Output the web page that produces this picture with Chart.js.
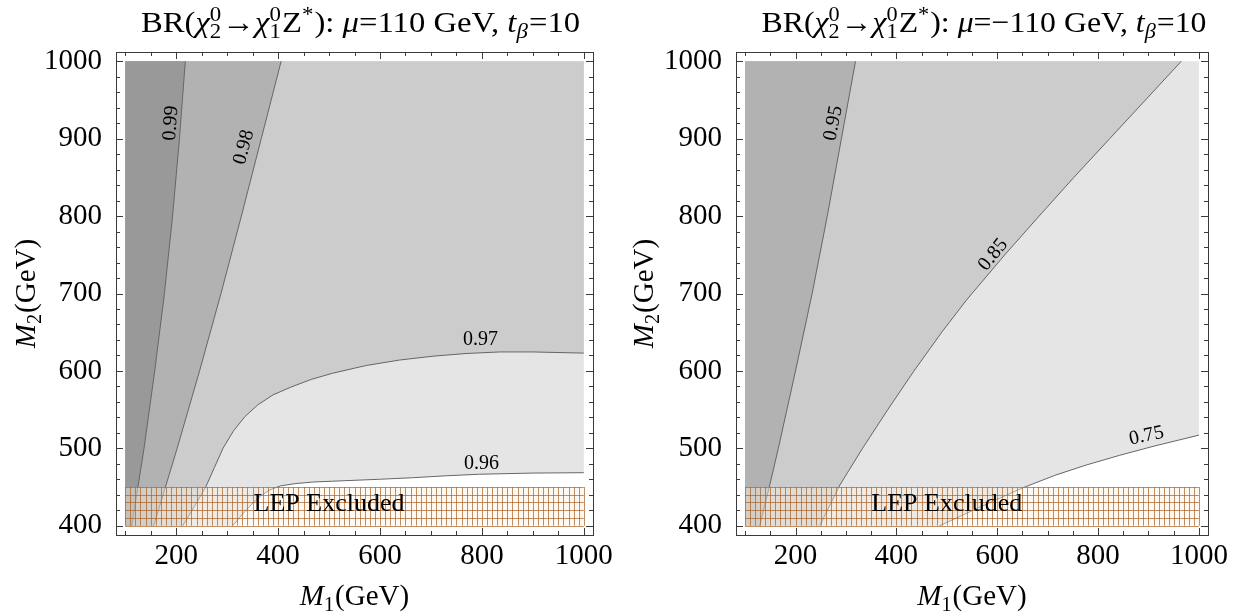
<!DOCTYPE html>
<html>
<head>
<meta charset="utf-8">
<script src="https://cdn.jsdelivr.net/npm/chart.js@4.4.1/dist/chart.umd.min.js"></script>
<style>
  html, body { margin: 0; padding: 0; background: #fff; }
  #wrap { position: relative; width: 1255px; height: 612px; overflow: hidden; }
  #left { position: absolute; left: 0; top: 0; }
  #right { position: absolute; left: 620px; top: 0; }
</style>
</head>
<body>
<div id="wrap">
  <canvas id="left" width="620" height="612"></canvas>
  <canvas id="right" width="635" height="612"></canvas>
</div>
<script>
// plot ranges (GeV)
var m1Range = [100, 1000];
var m2Range = [400, 1000];
var xTicks = [200, 400, 600, 800, 1000];
var yTicks = [400, 500, 600, 700, 800, 900, 1000];
var lepM2 = [400, 450];

// mu = 110 GeV contours, points are [M1, M2]
var c099L = [[113,400],[137,500],[158,600],[177,700],[193,800],[206.5,900],[218,1000]];
var c098L = [[156,400],[202,500],[246,600],[288,700],[328,800],[367,900],[406,1000]];
var c097L = [[213,400],[236,425],[258,450],[275,475],[292,500],[312,522],[335,541],[360,556],
             [390,569],[425,579],[465,589],[507,597],[573,607],[638,614],[704,619],
             [769,622.5],[835,624.5],[900,624.5],[1000,623]];
var c096L = [[311,400],[329,414],[347,427],[365,438],[383,446],[405,451.5],[435,454.5],
             [470,456.5],[507,457.5],[599,460],[664,462],[730,464.5],[795,466.5],
             [900,468],[1000,468.5]];
var levelsL = ['0.99', '0.98', '0.97', '0.96'];
var labelAtL = [[190,920],[333,889],[797,640],[799,480]];

// mu = -110 GeV contours
var c095R = [[129,400],[148,450],[166,500],[200,600],[233,700],[263,800],[291,900],[319,1000]];
var c085R = [[248,400],[288,452.6],[333,500],[383,550],[435,600],[490,650],[539,691.5],
             [615,750],[683,800],[752,850],[823,900],[894,950],[965,1000]];
var c075R = [[486,400],[569,425],[651,449],[714,465],[777,478.5],[843,491],[909,502.5],[1000,517]];
var levelsR = ['0.95', '0.85', '0.75'];
var labelAtR = [[275,920],[592,750],[896,516]];

var FONT = '"Liberation Serif", "Times New Roman", serif';

function fontStr(it, size) {
    return (it ? 'italic ' : '') + size + 'px ' + FONT;
}

// width of one piece of rich text
function partWidth(ctx, p, size) {
    if (p.sup != null || p.sub != null) {
        ctx.font = fontStr(p.sit, size * 0.7);
        var a = p.sup ? ctx.measureText(p.sup).width : 0;
        var b = p.sub ? ctx.measureText(p.sub).width : 0;
        return Math.max(a, b) + 1;
    }
    ctx.font = fontStr(p.it, size);
    return ctx.measureText(p.t).width;
}

// draws text with sub/superscripts centred on cx, sx stretches it sideways
function drawRich(ctx, parts, cx, base, size, sx) {
    var total = 0;
    parts.forEach(function(p) { total += partWidth(ctx, p, size); });
    ctx.save();
    ctx.translate(cx, base);
    ctx.scale(sx || 1, 1);
    var x = -total / 2;
    ctx.textAlign = 'left';
    ctx.textBaseline = 'alphabetic';
    ctx.fillStyle = '#000';
    parts.forEach(function(p) {
        var w = partWidth(ctx, p, size);
        if (p.sup != null || p.sub != null) {
            ctx.font = fontStr(p.sit, size * 0.7);
            if (p.sup) ctx.fillText(p.sup, x, -size * 0.38);
            if (p.sub) ctx.fillText(p.sub, x, size * 0.2);
        } else {
            ctx.font = fontStr(p.it, size);
            ctx.fillText(p.t, x, 0);
        }
        x += w;
    });
    ctx.restore();
}

function titleParts(mu) {
    return [{t: 'BR('}, {t: 'χ', it: true}, {sup: '0', sub: '2'}, {t: '→'},
            {t: 'χ', it: true}, {sup: '0', sub: '1'}, {t: 'Z'}, {sup: '*'},
            {t: '): '}, {t: 'μ', it: true}, {t: '=' + mu + ' GeV, '},
            {t: 't', it: true}, {sub: 'β', sit: true}, {t: '=10'}];
}
var xTitle = [{t: 'M', it: true}, {sub: '1'}, {t: '(GeV)'}];
var yTitle = [{t: 'M', it: true}, {sub: '2'}, {t: '(GeV)'}];

// close a contour into the region lying above / left of it
function region(line) {
    var pts = line.slice();
    var last = pts[pts.length - 1];
    if (last[1] < m2Range[1]) pts.push([m1Range[1], m2Range[1]]);
    pts.push([m1Range[0], m2Range[1]]);
    pts.push([m1Range[0], m2Range[0]]);
    return pts;
}

function toXY(pts) {
    return pts.map(function(p) { return {x: p[0], y: p[1]}; });
}

var decoPlugin = {
    id: 'deco',
    afterDatasetsDraw: function(chart, args, o) {
        var ctx = chart.ctx, xs = chart.scales.x, ys = chart.scales.y;
        ctx.save();
        // LEP excluded band
        var x0 = xs.getPixelForValue(m1Range[0]), x1 = xs.getPixelForValue(m1Range[1]);
        var yb = ys.getPixelForValue(lepM2[0]), yt = ys.getPixelForValue(lepM2[1]);
        ctx.fillStyle = 'rgba(252,240,228,0.45)';
        ctx.fillRect(x0, yt, x1 - x0, yb - yt);
        ctx.strokeStyle = 'rgba(168,96,34,0.7)';
        ctx.lineWidth = 1;
        ctx.beginPath();
        for (var v = m1Range[0]; v <= m1Range[1]; v += 10) {
            var px = Math.round(xs.getPixelForValue(v)) + 0.5;
            ctx.moveTo(px, yt); ctx.lineTo(px, yb);
        }
        for (var w = lepM2[0]; w <= lepM2[1]; w += 10) {
            var py = Math.round(ys.getPixelForValue(w)) + 0.5;
            ctx.moveTo(x0, py); ctx.lineTo(x1, py);
        }
        ctx.stroke();
        ctx.fillStyle = '#000';
        ctx.font = '26px ' + FONT;
        ctx.textAlign = 'center';
        ctx.textBaseline = 'middle';
        ctx.fillText('LEP Excluded', xs.getPixelForValue(500), ys.getPixelForValue(428));
        // contour labels
        ctx.font = '20px ' + FONT;
        o.levels.forEach(function(lv, i) {
            ctx.save();
            ctx.translate(xs.getPixelForValue(o.at[i][0]), ys.getPixelForValue(o.at[i][1]));
            ctx.rotate(o.rot[i] * Math.PI / 180);
            ctx.fillText(lv, 0, 0);
            ctx.restore();
        });
        ctx.restore();
    },
    afterDraw: function(chart, args, o) {
        var ctx = chart.ctx, xs = chart.scales.x, ys = chart.scales.y, a = chart.chartArea;
        ctx.save();
        ctx.strokeStyle = '#3a3a3a';
        ctx.lineWidth = 1;
        ctx.strokeRect(Math.round(a.left) + 0.5, Math.round(a.top) + 0.5,
                       Math.round(a.right - a.left), Math.round(a.bottom - a.top));
        ctx.beginPath();
        var v, p, len;
        for (v = m1Range[0]; v <= m1Range[1]; v += 50) {
            p = Math.round(xs.getPixelForValue(v)) + 0.5;
            len = xTicks.indexOf(v) >= 0 ? 7 : 4;
            ctx.moveTo(p, a.bottom); ctx.lineTo(p, a.bottom - len);
            ctx.moveTo(p, a.top); ctx.lineTo(p, a.top + len);
        }
        for (v = m2Range[0]; v <= m2Range[1]; v += 20) {
            p = Math.round(ys.getPixelForValue(v)) + 0.5;
            len = yTicks.indexOf(v) >= 0 ? 7 : 4;
            ctx.moveTo(a.left, p); ctx.lineTo(a.left + len, p);
            ctx.moveTo(a.right, p); ctx.lineTo(a.right - len, p);
        }
        ctx.stroke();
        var cx = (a.left + a.right) / 2;
        drawRich(ctx, titleParts(o.mu), cx + o.titleShift, 32, 30, o.titleStretch);
        drawRich(ctx, xTitle, cx, 605, 29);
        ctx.translate(o.yTitleX, (a.top + a.bottom) / 2);
        ctx.rotate(-Math.PI / 2);
        drawRich(ctx, yTitle, 0, 0, 29);
        ctx.restore();
    }
};

function makeChart(id, lines, shades, deco, padRight) {
    var datasets = [];
    // shaded regions, lightest first (drawn behind)
    for (var i = lines.length - 1; i >= 0; i--) {
        datasets.push({
            data: toXY(region(lines[i])),
            fill: 'shape',
            backgroundColor: shades[i],
            borderWidth: 0,
            borderColor: 'rgba(0,0,0,0)',
            pointRadius: 0,
            tension: 0,
            order: 10 + i
        });
    }
    lines.forEach(function(l) {
        datasets.push({
            data: toXY(l),
            fill: false,
            borderColor: '#666666',
            borderWidth: 1,
            pointRadius: 0,
            tension: 0,
            order: 0
        });
    });
    var tickFont = {family: FONT, size: 29};
    var plain = function(v) { return String(v); };
    return new Chart(document.getElementById(id), {
        type: 'line',
        data: {datasets: datasets},
        options: {
            responsive: false,
            animation: false,
            devicePixelRatio: 1,
            layout: {padding: {left: 0, right: padRight, top: 52, bottom: 0}},
            plugins: {legend: {display: false}, tooltip: {enabled: false}, deco: deco},
            scales: {
                x: {
                    type: 'linear', min: 82, max: 1018,
                    grid: {display: false}, border: {display: false},
                    afterBuildTicks: function(s) { s.ticks = xTicks.map(function(v) { return {value: v}; }); },
                    afterFit: function(s) { s.height = 77; },
                    ticks: {font: tickFont, color: '#000', padding: -4, maxRotation: 0,
                            autoSkip: false, callback: plain}
                },
                y: {
                    type: 'linear', min: 388, max: 1012,
                    grid: {display: false}, border: {display: false},
                    afterBuildTicks: function(s) { s.ticks = yTicks.map(function(v) { return {value: v}; }); },
                    afterFit: function(s) { s.width = 116; },
                    ticks: {font: tickFont, color: '#000', padding: 6, autoSkip: false, callback: plain}
                }
            }
        },
        plugins: [decoPlugin]
    });
}

makeChart('left', [c099L, c098L, c097L, c096L], ['#999999', '#b2b2b2', '#cccccc', '#e5e5e5'],
          {mu: '110', levels: levelsL, at: labelAtL, rot: [-86, -75, 0, 0],
           yTitleX: 35, titleShift: 6, titleStretch: 1.09}, 27);
makeChart('right', [c095R, c085R, c075R], ['#b2b2b2', '#cccccc', '#e5e5e5'],
          {mu: '−110', levels: levelsR, at: labelAtR, rot: [-79, -51, -12],
           yTitleX: 33, titleShift: 12, titleStretch: 1.06}, 47);
</script>
</body>
</html>
